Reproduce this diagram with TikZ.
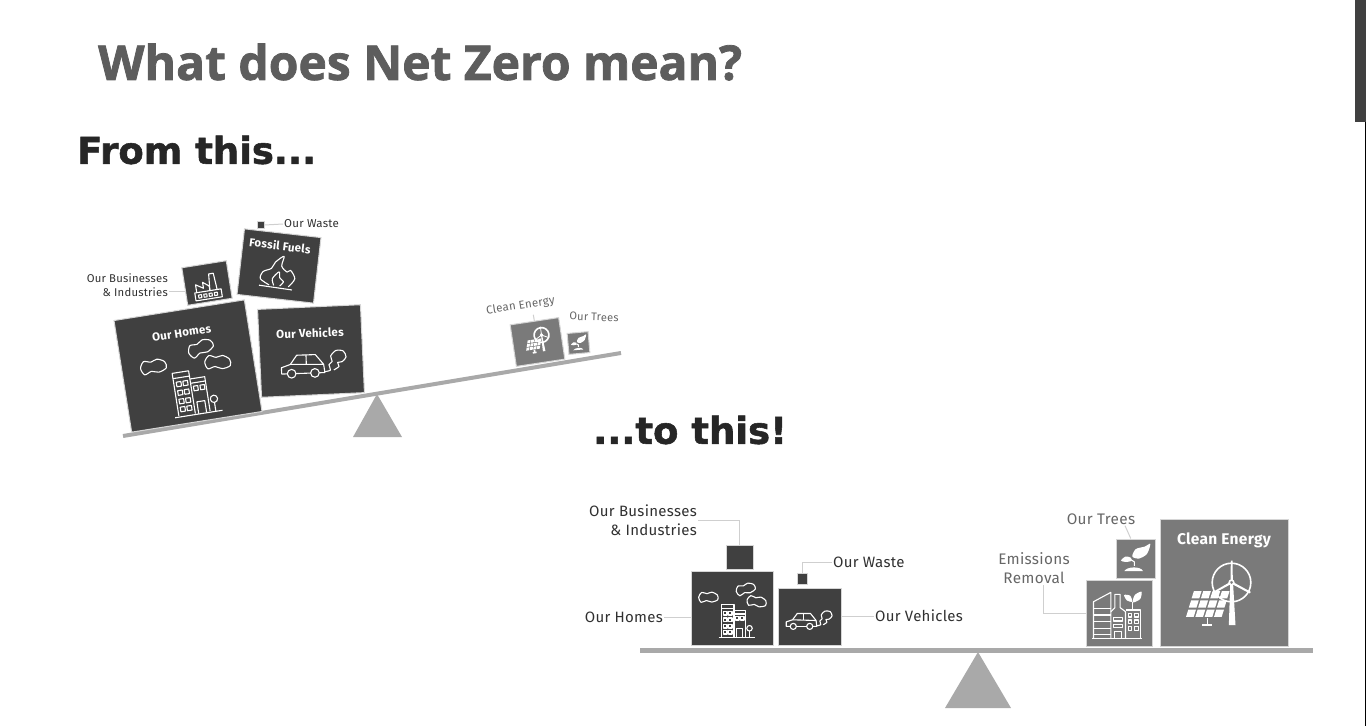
\documentclass[tikz,border=0pt]{standalone}
\usepackage{fontspec}
\setmainfont[LetterSpace=2]{Fira Sans}
\newfontfamily\titlefont[FakeBold=1.6]{Open Sans Bold}
\newfontfamily\headfont[FakeBold=1.5]{DejaVu Sans Bold}
\usetikzlibrary{positioning}
\definecolor{darkfill}{HTML}{404040}
\definecolor{midfill}{HTML}{7A7A7A}
\definecolor{halo}{HTML}{D6D6D6}
\definecolor{beamgray}{HTML}{A9A9A9}
\definecolor{leadgray}{HTML}{CFCFCF}
\definecolor{darktext}{HTML}{303030}
\definecolor{softtext}{HTML}{666666}
\tikzset{
  darkbox/.style={draw=halo,line width=1pt,fill=darkfill,inner sep=0pt},
  midbox/.style={draw=halo,line width=1pt,fill=midfill,inner sep=0pt},
  boxtitle/.style={text=white,inner sep=0pt,font=\bfseries\fontsize{#1}{#1}\selectfont},
  lbl/.style={text=darktext,inner sep=1pt,align=center,font=\fontsize{#1}{#1}\selectfont},
  softlbl/.style={text=softtext,inner sep=1pt,align=center,font=\fontsize{#1}{#1}\selectfont},
  leader/.style={draw=leadgray,line width=1pt},
  iconline/.style={draw=white,line width=1.1pt,line join=round},
  pics/homesicon/.style={code={
    \foreach \cx/\cy/\ca in {-113/-89/0,36/-122/15,80/-72/-10}
      \draw[iconline,shift={(\cx,\cy)},rotate=\ca,scale=1.2] plot[smooth cycle] coordinates {(-32,0)(-22,-16)(-4,-12)(12,-17)(30,-8)(32,8)(12,16)(-6,11)(-24,17)};
    \draw[iconline] (-60,70) -- (-60,-60) -- (-10,-60) -- (-10,70);
    \draw[iconline] (-60,-44) -- (-10,-44);
    \draw[iconline] (-10,-35) -- (35,-35) -- (35,70);
    \draw[iconline] (-10,-22) -- (35,-22);
    \foreach \wy in {-32,-6,20,44} {
      \draw[iconline] (-52,\wy) rectangle ++(14,14);
      \draw[iconline] (-32,\wy) rectangle ++(14,14);
    }
    \foreach \wx in {-3,17} \draw[iconline] (\wx,-12) rectangle ++(13,14);
    \draw[iconline] (0,72) -- (0,36) -- (24,36) -- (24,72);
    \draw[iconline] (52,35) circle (11);
    \draw[iconline] (52,46) -- (52,72);
    \draw[iconline] (-72,73) -- (72,73);
  }},
  pics/caricon/.style={code={
    \draw[iconline] (-48,25) -- (-65,25) -- (-65,6) -- (-38,-3) -- (-18,-30) -- (38,-30) -- (62,0) -- (65,25) -- (48,25);
    \draw[iconline] (-22,25) -- (22,25);
    \draw[iconline] (-38,-3) -- (62,0);
    \draw[iconline] (10,-30) -- (10,-2);
    \draw[iconline] (-35,25) circle (13);
    \draw[iconline] (35,25) circle (13);
    \draw[iconline] plot[smooth] coordinates {(66,22)(82,18)(78,2)(88,-8)(84,-24)(100,-40)(122,-38)(130,-20)(118,-6)(104,-4)(108,8)(92,18)};
  }},
  pics/flameicon/.style={code={
    \draw[iconline] plot[smooth] coordinates {(-20,38)(-48,22)(-42,0)(-18,-12)(-8,-32)(16,-52)(12,-22)(30,-6)(40,-12)(55,12)(38,38)};
    \draw[iconline] plot[smooth] coordinates {(-6,38)(-12,18)(6,-4)(10,14)(22,24)(12,38)};
    \draw[iconline] (-50,42) -- (50,46);
  }},
  pics/factoryicon/.style={code={
    \draw[iconline] (-40,18) rectangle (40,42);
    \draw[iconline] (-34,18) -- (-34,-6) -- (-12,8) -- (-12,-10) -- (6,4) -- (6,18);
    \draw[iconline] (6,18) -- (10,-32) -- (24,-32) -- (28,18);
    \foreach \wx in {-30,-14,2,18} \draw[iconline] (\wx,26) rectangle ++(9,9);
  }},
  pics/planticon/.style={code={
    \fill[white] plot[smooth cycle] coordinates {(-8,-6)(2,-28)(30,-36)(46,-44)(36,-14)(12,0)};
    \fill[white] plot[smooth cycle] coordinates {(-42,6)(-28,-6)(-12,-2)(-12,8)(-30,10)};
    \draw[iconline] (-12,4) -- (-2,10) -- (-2,22);
    \fill[white] (-32,38) .. controls (-26,24) and (18,22) .. (24,38) -- cycle;
  }},
  pics/energyicon/.style={code={
    \draw[iconline,line width=1.6pt] (0,0) circle (58);
    \draw[iconline,line width=1.6pt] (0,0) circle (7);
    \fill[white] (-3,-5) -- (-2,-66) -- (3,-66) -- (4,-5) -- cycle;
    \fill[white] (5,-1) -- (58,28) -- (55,33) -- (2,5) -- cycle;
    \fill[white] (-5,-1) -- (-52,26) -- (-50,31) -- (-2,5) -- cycle;
    \fill[white] (-4,8) -- (-8,128) -- (12,128) -- (5,8) -- cycle;
    \foreach \i in {0,...,3} \foreach \j in {0,1,2}
      \fill[white] ({-113+28*\i-8.33*\j},{26+27.7*\j}) -- ({-90+28*\i-8.33*\j},{26+27.7*\j}) -- ({-97+28*\i-8.33*\j},{48+27.7*\j}) -- ({-120+28*\i-8.33*\j},{48+27.7*\j}) -- cycle;
    \draw[iconline,line width=1.6pt] (-72,107) -- (-72,125);
    \draw[iconline,line width=1.6pt] (-88,128) -- (-58,128);
  }},
  pics/cityicon/.style={code={
    \draw[iconline] (-72,70) -- (-72,-40) -- (-20,-68) -- (-20,70);
    \foreach \sy in {-20,0,20,40,58} \draw[iconline] (-72,\sy) -- (-20,\sy);
    \draw[iconline] (-20,-10) -- (-8,-22) -- (-8,-62) -- (8,-62) -- (8,-22) -- (24,-10) -- (24,70);
    \foreach \sy in {8,28} \draw[iconline] (-12,\sy) rectangle (16,\sy+10);
    \draw[iconline] (-8,70) -- (-8,50) -- (12,50) -- (12,70);
    \draw[iconline] (24,-15) -- (70,-15) -- (70,70);
    \foreach \wy in {-5,15,35} \foreach \wx in {32,52} \draw[iconline] (\wx,\wy) rectangle ++(11,11);
    \draw[iconline] (46,-15) -- (46,-40);
    \fill[white] plot[smooth cycle] coordinates {(46,-38)(52,-60)(72,-70)(68,-48)};
    \fill[white] plot[smooth cycle] coordinates {(44,-40)(28,-44)(20,-60)(38,-58)};
    \draw[iconline] (-76,71) -- (74,71);
  }},
}
\begin{document}
\begin{tikzpicture}[x=1pt,y=-1pt]
\useasboundingbox (0,0) rectangle (1366,726);
\fill[darkfill] (1355,0) rectangle (1366,122);
\draw[black,line width=1pt] (1365.5,122) -- (1365.5,726);
\node[anchor=west,inner sep=0pt,text=darkfill!85,font=\titlefont\fontsize{48}{48}\selectfont] (maintitle) at (98,62) {What does Net Zero mean?};
\node[anchor=west,inner sep=0pt,text=black!85,font=\headfont\fontsize{37}{37}\selectfont] (fromhead) at (77,150) {From this...};
\node[anchor=west,inner sep=0pt,text=black!85,font=\headfont\fontsize{37}{37}\selectfont] (tohead) at (593,430) {...to this!};

\draw[beamgray,line width=4pt] (123,436) -- (621,353);
\fill[beamgray] (377,394) -- (402,437) -- (353,437) -- cycle;
\node[darkbox,rotate=9,minimum width=132pt,minimum height=113pt] (homesA) at (188,366) {};
\node[darkbox,rotate=2.6,minimum width=103pt,minimum height=88pt] (vehiclesA) at (311,351) {};
\node[darkbox,rotate=9,minimum width=45pt,minimum height=38pt] (businessA) at (207,283) {};
\node[darkbox,rotate=-6.5,minimum width=77pt,minimum height=66pt] (fossilA) at (279,266) {};
\node[darkbox,minimum width=7pt,minimum height=7pt] (wasteA) at (260.5,225) {};
\node[midbox,rotate=8.5,minimum width=49pt,minimum height=42pt] (cleanA) at (537.5,342) {};
\node[midbox,rotate=5,minimum width=21pt,minimum height=21pt] (treesA) at (578.5,343) {};
\node[boxtitle=11.5,rotate=9] (homestitleA) at (181.5,333) {Our Homes};
\node[boxtitle=11.5,rotate=2] (vehiclestitleA) at (310,333) {Our Vehicles};
\node[boxtitle=11.5,rotate=-7] (fossiltitleA) at (280,245.5) {Fossil Fuels};
\pic[rotate=9,scale=0.333] at (195,390) {homesicon};
\pic[rotate=2,scale=0.333] at (303,365) {caricon};
\pic[rotate=-6,scale=0.333] at (277,273) {flameicon};
\pic[rotate=9,scale=0.333] at (207,285) {factoryicon};
\pic[rotate=8.5,scale=0.128] at (541.5,335) {energyicon};
\pic[rotate=5,scale=0.18] at (578.5,343) {planticon};
\node[lbl=11.3,align=right,anchor=east] (businesslblA) at (169,285) {Our Businesses\\[3pt]\& Industries};
\node[lbl=11.5,anchor=west] (wastelblA) at (283,224) {Our Waste};
\node[softlbl=11.5,rotate=9] (cleanlblA) at (520.5,306) {Clean Energy};
\node[softlbl=11,rotate=-2] (treeslblA) at (594,317) {Our Trees};
\draw[leader] (wastelblA.west) -- (wasteA.east);
\draw[leader] (businesslblA.south east) ++(0,-6) -- ++(16,0);
\draw[leader] (cleanA.north) -- ++(-1,-6);

\draw[beamgray,line width=5pt] (640,650) -- (1313,650);
\fill[beamgray] (978,652) -- (1011,708) -- (945,708) -- cycle;
\node[darkbox,anchor=south west,minimum width=82pt,minimum height=74pt] (homesB) at (690.5,646) {};
\node[darkbox,anchor=south west,minimum width=63pt,minimum height=57pt] (vehiclesB) at (777.5,646) {};
\node[darkbox,anchor=south west,minimum width=27pt,minimum height=24pt] (businessB) at (725.5,570) {};
\node[darkbox,anchor=south west,minimum width=10pt,minimum height=10.5pt] (wasteB) at (796.5,584.5) {};
\node[midbox,anchor=south west,minimum width=66.5pt,minimum height=66pt] (removalB) at (1085.5,647) {};
\node[midbox,anchor=south west,minimum width=39.5pt,minimum height=39pt] (treesB) at (1115.5,578.5) {};
\node[midbox,anchor=south west,minimum width=128pt,minimum height=127pt] (cleanB) at (1160,647) {};
\node[boxtitle=15.5] (cleantitleB) at (1224,540) {Clean Energy};
\pic[scale=0.25] at (736.5,619.5) {homesicon};
\pic[scale=0.235] at (801.5,620.5) {caricon};
\pic[scale=0.333] at (1231.5,582.5) {energyicon};
\pic[scale=0.333] at (1135,558.5) {planticon};
\pic[scale=0.333] at (1117.5,615) {cityicon};
\node[lbl=15,align=right,anchor=east] (businesslblB) at (698,520) {Our Businesses\\[4pt]\& Industries};
\node[lbl=15,anchor=west] (wastelblB) at (832,562) {Our Waste};
\node[lbl=15,anchor=east] (homeslblB) at (664,617) {Our Homes};
\node[lbl=15,anchor=west] (vehicleslblB) at (874,616) {Our Vehicles};
\node[softlbl=15.3] (treeslblB) at (1101,519) {Our Trees};
\node[softlbl=15.3,anchor=north] (removallblB) at (1034,551.5) {Emissions\\[4pt]Removal};
\draw[leader] (businesslblB.east) -| (businessB.north);
\draw[leader] (wastelblB.west) -| (wasteB.north);
\draw[leader] (homeslblB.east) -- (homeslblB.east -| homesB.west);
\draw[leader] (vehicleslblB.west) -- (vehicleslblB.west -| vehiclesB.east);
\draw[leader] (treeslblB.south) ++(24,0) -- ([xshift=-5pt]treesB.north);
\draw[leader] (removallblB.south) ++(9,0) |- (removalB.west);
\end{tikzpicture}
\end{document}
